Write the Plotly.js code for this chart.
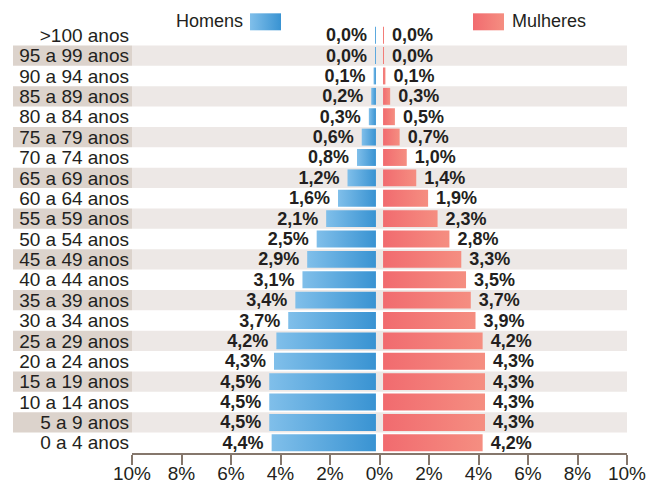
<!DOCTYPE html>
<html>
<head>
<meta charset="utf-8">
<script src="https://cdn.plot.ly/plotly-3.0.1.min.js"></script>
<style>
  html, body { margin: 0; padding: 0; background: #ffffff; }
  #chart { width: 647px; height: 486px; }
</style>
</head>
<body>
<svg width="0" height="0" style="position:absolute">
  <defs>
    <linearGradient id="gBlue" x1="0" y1="0" x2="1" y2="0">
      <stop offset="0" stop-color="#80bfea"/>
      <stop offset="1" stop-color="#3993d2"/>
    </linearGradient>
    <linearGradient id="gRed" x1="0" y1="0" x2="1" y2="0">
      <stop offset="0" stop-color="#f16b6f"/>
      <stop offset="1" stop-color="#f58e81"/>
    </linearGradient>
  </defs>
</svg>
<div id="chart"></div>
<script>
// ---- data ----
const ageGroups = ['>100 anos', '95 a 99 anos', '90 a 94 anos', '85 a 89 anos', '80 a 84 anos',
  '75 a 79 anos', '70 a 74 anos', '65 a 69 anos', '60 a 64 anos', '55 a 59 anos', '50 a 54 anos',
  '45 a 49 anos', '40 a 44 anos', '35 a 39 anos', '30 a 34 anos', '25 a 29 anos', '20 a 24 anos',
  '15 a 19 anos', '10 a 14 anos', '5 a 9 anos', '0 a 4 anos'];
const homens = [0.03, 0.03, 0.1, 0.2, 0.3, 0.6, 0.8, 1.2, 1.6, 2.1, 2.5, 2.9, 3.1, 3.4, 3.7, 4.2, 4.3, 4.5, 4.5, 4.5, 4.4];
const mulheres = [0.03, 0.03, 0.1, 0.3, 0.5, 0.7, 1.0, 1.4, 1.9, 2.3, 2.8, 3.3, 3.5, 3.7, 3.9, 4.2, 4.3, 4.3, 4.3, 4.3, 4.2];
const tickValues = [-10, -8, -6, -4, -2, 0, 2, 4, 6, 8, 10];
const tickLabels = ['10%', '8%', '6%', '4%', '2%', '0%', '2%', '4%', '6%', '8%', '10%'];
const legendNames = ['Homens', 'Mulheres'];

// ---- styles ----
const FONT = 'Liberation Sans, Arial, Helvetica, sans-serif';
const TXT = '#231f20';
const BLUE = '#3b95d3';
const RED = '#f16d70';
const AXIS = '#85776c';
const GAP = 0.15;
const NB = '\u00a0';

const fmt = v => v.toFixed(1).replace('.', ',') + '%';

const traces = [
  { type: 'scatter', x: [], y: [], xaxis: 'x', yaxis: 'y', showlegend: false, hoverinfo: 'skip' },
  {
    type: 'bar', orientation: 'h', name: legendNames[0],
    y: ageGroups, x: homens.map(v => -v), base: -GAP,
    xaxis: 'x2', yaxis: 'y',
    marker: { color: BLUE, line: { width: 0 } },
    text: homens.map(v => fmt(v) + NB), textposition: 'outside', cliponaxis: false,
    constraintext: 'none',
    textfont: { family: FONT, size: 18, color: TXT, weight: 'bold' },
    hoverinfo: 'skip', showlegend: false
  },
  {
    type: 'bar', orientation: 'h', name: legendNames[1],
    y: ageGroups, x: mulheres, base: GAP,
    xaxis: 'x2', yaxis: 'y',
    marker: { color: RED, line: { width: 0 } },
    text: mulheres.map(v => NB + fmt(v)), textposition: 'outside', cliponaxis: false,
    constraintext: 'none',
    textfont: { family: FONT, size: 18, color: TXT, weight: 'bold' },
    hoverinfo: 'skip', showlegend: false
  }
];

// background bands
const shapes = [];
ageGroups.forEach((g, i) => {
  if (i % 2 === 1) {
    shapes.push({ type: 'rect', layer: 'below', xref: 'paper', yref: 'y',
      x0: 0, x1: 1, y0: i - 0.5, y1: i + 0.5, fillcolor: '#ede8e6', line: { width: 0 } });
    shapes.push({ type: 'rect', layer: 'below', xref: 'paper', yref: 'y',
      x0: -0.2404, x1: 0, y0: i - 0.5, y1: i + 0.5, fillcolor: '#dcd3cc', line: { width: 0 } });
  }
});
// legend swatches
shapes.push({ type: 'rect', xref: 'paper', yref: 'paper', x0: 0.2384, x1: 0.3010, y0: 0.9876, y1: 1.0273,
  fillcolor: BLUE, line: { width: 0 } });
shapes.push({ type: 'rect', xref: 'paper', yref: 'paper', x0: 0.6889, x1: 0.7515, y0: 0.9876, y1: 1.0273,
  fillcolor: RED, line: { width: 0 } });

const annotations = [
  { text: legendNames[0], xref: 'paper', yref: 'paper', x: 0.2283, y: 1.0086, xanchor: 'right', yanchor: 'middle',
    showarrow: false, font: { family: FONT, size: 18, color: TXT } },
  { text: legendNames[1], xref: 'paper', yref: 'paper', x: 0.7636, y: 1.0086, xanchor: 'left', yanchor: 'middle',
    showarrow: false, font: { family: FONT, size: 18, color: TXT } }
];

const layout = {
  width: 647, height: 486,
  margin: { l: 132, r: 20, t: 25, b: 33, pad: 0 },
  paper_bgcolor: '#ffffff', plot_bgcolor: 'rgba(0,0,0,0)',
  font: { family: FONT, size: 19, color: TXT },
  showlegend: false,
  barmode: 'overlay', bargap: 0.17,
  xaxis: {
    range: [-10, 10], fixedrange: true,
    tickmode: 'array', tickvals: tickValues, ticktext: tickLabels,
    ticks: 'outside', ticklen: 10, tickwidth: 2, tickcolor: AXIS,
    showline: true, linecolor: AXIS, linewidth: 2,
    showgrid: false, zeroline: false, ticklabelstandoff: -8,
    tickfont: { family: FONT, size: 19, color: TXT }
  },
  xaxis2: {
    overlaying: 'x', range: [-10.44, 10.44], visible: false, fixedrange: true,
    showgrid: false, zeroline: false
  },
  yaxis: {
    type: 'category', autorange: 'reversed', categoryorder: 'array', categoryarray: ageGroups,
    tickmode: 'array', tickvals: ageGroups, ticktext: ageGroups,
    showgrid: false, zeroline: false, showline: false, ticks: '', fixedrange: true,
    tickfont: { family: FONT, size: 19, color: TXT }, ticklabelstandoff: 2
  },
  shapes: shapes,
  annotations: annotations
};

Plotly.newPlot('chart', traces, layout, { displayModeBar: false, responsive: false }).then(gd => {
  const paths = gd.querySelectorAll('path');
  paths.forEach(p => {
    const f = p.style.fill;
    if (f === 'rgb(59, 149, 211)') p.style.fill = 'url(#gBlue)';
    else if (f === 'rgb(241, 109, 112)') p.style.fill = 'url(#gRed)';
  });
});
</script>
</body>
</html>
